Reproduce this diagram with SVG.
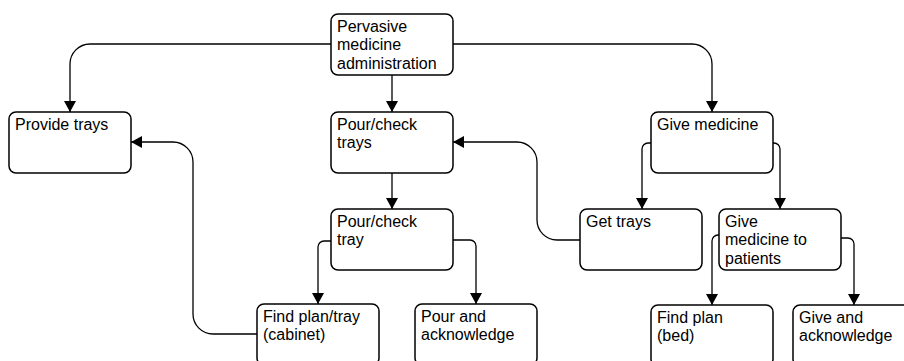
<svg xmlns="http://www.w3.org/2000/svg" width="904" height="361" viewBox="0 0 904 361">
  <style>
    .box { fill: #ffffff; stroke: #000000; stroke-width: 1.5; }
    .lbl { font-family: "Liberation Sans", Arial, sans-serif; font-size: 16px; fill: #000000; }
    .edge { fill: none; stroke: #000000; stroke-width: 1.3; marker-end: url(#arrow); }
  </style>
  <defs>
    <marker id="arrow" markerUnits="userSpaceOnUse" viewBox="0 0 11 12" refX="11" refY="6" markerWidth="11" markerHeight="12" orient="auto">
      <path d="M0,0 L11,6 L0,12 Z" fill="#000000"/>
    </marker>
  </defs>
  <rect width="904" height="361" fill="#ffffff"/>

  <!-- connectors -->
  <g id="connectors">
    <path class="edge" d="M331,44 H90 A20,20 0 0 0 70,64 V112"/>
    <path class="edge" d="M453,44 H692 A20,20 0 0 1 712,64 V112"/>
    <path class="edge" d="M392,75 V112"/>
    <path class="edge" d="M392,173 V209"/>
    <path class="edge" d="M580,240 H557 A20,20 0 0 1 537,220 V162 A20,20 0 0 0 517,142 H453"/>
    <path class="edge" d="M257,334 H213 A20,20 0 0 1 193,314 V162 A20,20 0 0 0 173,142 H131"/>
    <path class="edge" d="M331,241 H324 A6,6 0 0 0 318,247 V304"/>
    <path class="edge" d="M453,240 H470 A6,6 0 0 1 476,246 V304"/>
    <path class="edge" d="M651,143 H648 A6,6 0 0 0 642,149 V209"/>
    <path class="edge" d="M773,143 H774 A6,6 0 0 1 780,149 V209"/>
    <path class="edge" d="M719,235 H718 A6,6 0 0 0 712,241 V305"/>
    <path class="edge" d="M841,238 H848 A6,6 0 0 1 854,244 V305"/>
  </g>

  <!-- nodes -->
  <g id="n-pervasive">
    <rect class="box" x="331" y="14" width="122" height="61" rx="7"/>
    <text class="lbl" x="337" y="31.5">Pervasive</text>
    <text class="lbl" x="337" y="50">medicine</text>
    <text class="lbl" x="337" y="68.5">administration</text>
  </g>
  <g id="n-provide-trays">
    <rect class="box" x="9" y="112" width="122" height="61" rx="7"/>
    <text class="lbl" x="15" y="129.5">Provide trays</text>
  </g>
  <g id="n-pour-check-trays">
    <rect class="box" x="331" y="112" width="122" height="61" rx="7"/>
    <text class="lbl" x="337" y="129.5">Pour/check</text>
    <text class="lbl" x="337" y="148">trays</text>
  </g>
  <g id="n-give-medicine">
    <rect class="box" x="651" y="112" width="122" height="61" rx="7"/>
    <text class="lbl" x="657" y="129.5">Give medicine</text>
  </g>
  <g id="n-pour-check-tray">
    <rect class="box" x="331" y="209" width="122" height="61" rx="7"/>
    <text class="lbl" x="337" y="226.5">Pour/check</text>
    <text class="lbl" x="337" y="245">tray</text>
  </g>
  <g id="n-get-trays">
    <rect class="box" x="580" y="209" width="122" height="61" rx="7"/>
    <text class="lbl" x="586" y="226.5">Get trays</text>
  </g>
  <g id="n-give-to-patients">
    <rect class="box" x="719" y="209" width="122" height="61" rx="7"/>
    <text class="lbl" x="725" y="226.5">Give</text>
    <text class="lbl" x="725" y="245">medicine to</text>
    <text class="lbl" x="725" y="263.5">patients</text>
  </g>
  <g id="n-find-plan-tray">
    <rect class="box" x="257" y="304" width="122" height="61" rx="7"/>
    <text class="lbl" x="263" y="321.5">Find plan/tray</text>
    <text class="lbl" x="263" y="340">(cabinet)</text>
  </g>
  <g id="n-pour-acknowledge">
    <rect class="box" x="415" y="304" width="122" height="61" rx="7"/>
    <text class="lbl" x="421" y="321.5">Pour and</text>
    <text class="lbl" x="421" y="340">acknowledge</text>
  </g>
  <g id="n-find-plan-bed">
    <rect class="box" x="651" y="305" width="122" height="61" rx="7"/>
    <text class="lbl" x="657" y="322.5">Find plan</text>
    <text class="lbl" x="657" y="341">(bed)</text>
  </g>
  <g id="n-give-acknowledge">
    <rect class="box" x="793" y="305" width="122" height="61" rx="7"/>
    <text class="lbl" x="799" y="322.5">Give and</text>
    <text class="lbl" x="799" y="341">acknowledge</text>
  </g>
</svg>
